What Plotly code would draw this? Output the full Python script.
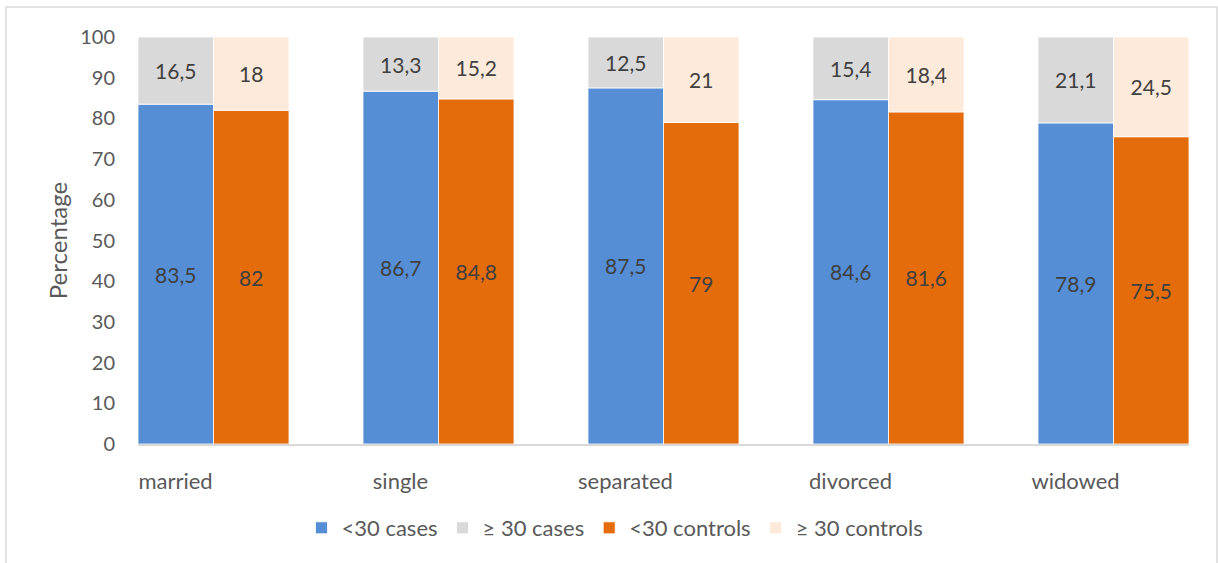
import plotly.graph_objects as go

# Marital status categories and the share of each age band (percent)
categories = ["married", "single", "separated", "divorced", "widowed"]
cases_under30 = [83.5, 86.7, 87.5, 84.6, 78.9]
cases_30plus = [16.5, 13.3, 12.5, 15.4, 21.1]
controls_under30 = [82, 84.8, 79, 81.6, 75.5]
controls_30plus = [18, 15.2, 21, 18.4, 24.5]
y_ticks = [0, 10, 20, 30, 40, 50, 60, 70, 80, 90, 100]

W, H = 1218, 563
ML, MR, MT, MB = 138, 29, 37, 119
plot_w = W - ML - MR
plot_h = H - MT - MB

FONT = "Lato, Carlito, 'Open Sans', sans-serif"
LABEL_FONT = dict(family=FONT, size=21, color="#404040")


def fmt(vals):
    return [f"{v:g}".replace(".", ",") for v in vals]


def seg(name, vals, base, color, group):
    return go.Bar(
        name=name,
        x=categories,
        y=vals,
        base=base,
        offsetgroup=group,
        marker=dict(color=color, line=dict(color="rgba(255,255,255,0.8)", width=1)),
        text=fmt(vals),
        textposition="inside",
        insidetextanchor="middle",
        textangle=0,
        textfont=LABEL_FONT,
        hoverinfo="skip",
    )


fig = go.Figure()
fig.add_trace(seg("<30 cases", cases_under30, None, "#558ED5", "cases"))
fig.add_trace(seg("\u2265 30 cases", cases_30plus, cases_under30, "#D9D9D9", "cases"))
fig.add_trace(seg("<30 controls", controls_under30, None, "#E46C0A", "controls"))
fig.add_trace(seg("\u2265 30 controls", controls_30plus, controls_under30, "#FDEADA", "controls"))

bargap = 74 / 225
half = (1 - bargap) / 2

# outer frame around the chart, given in pixels and converted to paper units
def px_x(p):
    return (p - ML) / plot_w


def px_y(p):
    return (H - MB - p) / plot_h


fig.add_shape(
    type="rect", xref="paper", yref="paper",
    x0=px_x(6), x1=px_x(1217), y0=px_y(600), y1=px_y(7),
    line=dict(color="#D9D9D9", width=1.5), fillcolor="rgba(0,0,0,0)", layer="below",
)

fig.update_layout(
    width=W, height=H,
    margin=dict(l=ML, r=MR, t=MT, b=MB, pad=0),
    barmode="group",
    bargap=bargap,
    bargroupgap=0,
    plot_bgcolor="white",
    paper_bgcolor="white",
    font=dict(family=FONT, size=21, color="#595959"),
    uniformtext=dict(mode=False),
    showlegend=True,
    legend=dict(
        orientation="h",
        x=px_x(615), xanchor="center",
        y=px_y(528), yanchor="middle",
        font=dict(family=FONT, size=22, color="#595959"),
        traceorder="normal",
        itemwidth=30,
    ),
    xaxis=dict(
        type="category",
        range=[-half, len(categories) - 1 + half],
        showgrid=False,
        showline=True,
        linecolor="#D9D9D9",
        linewidth=1.5,
        ticks="",
        ticklabelshift=-38,
        ticklabelstandoff=17,
        tickfont=dict(family=FONT, size=22, color="#595959"),
        zeroline=False,
    ),
    yaxis=dict(
        range=[0, 100],
        tickvals=y_ticks,
        showgrid=False,
        showline=False,
        zeroline=False,
        ticks="",
        ticklabelstandoff=22,
        tickfont=dict(family=FONT, size=20, color="#595959"),
        title=dict(text="Percentage", standoff=5,
                   font=dict(family=FONT, size=24, color="#595959")),
    ),
)

fig.write_html("out.html")
